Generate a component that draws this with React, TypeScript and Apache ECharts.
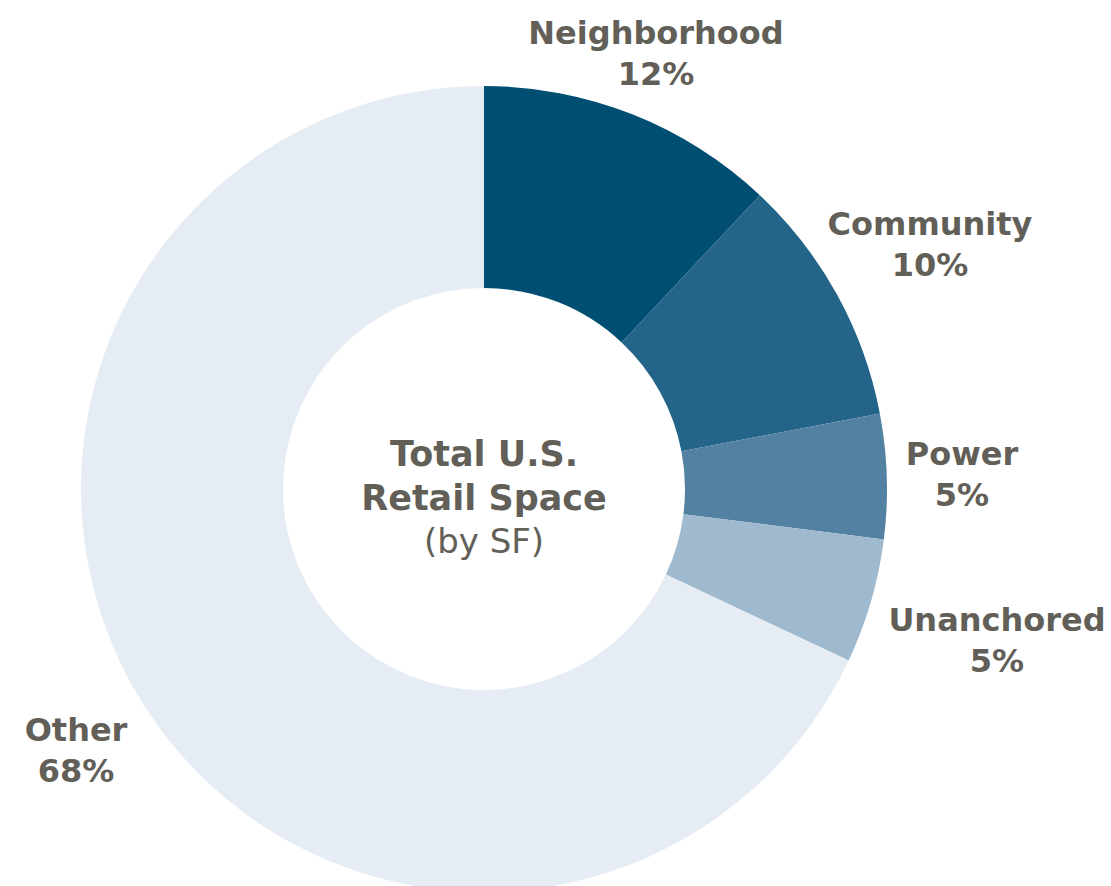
import React, { useEffect, useRef } from "react";
import * as echarts from "echarts";

const categories = ["Neighborhood", "Community", "Power", "Unanchored", "Other"];
const values = [12, 10, 5, 5, 68];
const colors = ["#004f72", "#236488", "#5381a2", "#9fb9cf", "#e6ecf3"];
const centerLines = ["Total U.S.", "Retail Space", "(by SF)"];

// label anchor positions (layout only, page coords)
const labelPos: [number, number][] = [
  [656, 53],
  [930, 244],
  [962, 474],
  [997, 640],
  [76, 750],
];

const FONT = "'DejaVu Sans', sans-serif";
const TEXT = "#625f58";

export default function App() {
  const ref = useRef<HTMLDivElement>(null);
  useEffect(() => {
    document.body.style.margin = "0";
    const chart = echarts.init(ref.current!, undefined, { renderer: "svg" });
    chart.setOption({
      animation: false,
      series: [
        {
          type: "pie",
          center: [484, 489],
          radius: [201, 403],
          startAngle: 90,
          clockwise: true,
          silent: true,
          data: categories.map((c, i) => ({
            name: c,
            value: values[i],
            itemStyle: { color: colors[i] },
          })),
          label: {
            show: true,
            formatter: "{b}\n{d}%",
            fontFamily: FONT,
            fontWeight: "bold",
            fontSize: 32,
            lineHeight: 41,
            color: TEXT,
            align: "center",
            overflow: "none",
            width: 400,
          },
          edgeDistance: 0,
          labelLine: { show: false },
          labelLayout: (p: any) => ({
            x: labelPos[p.dataIndex][0],
            y: labelPos[p.dataIndex][1],
            align: "center",
            verticalAlign: "middle",
          }),
        },
      ],
      graphic: [
        {
          type: "text",
          x: 484,
          y: 454,
          style: {
            text: centerLines[0],
            fontFamily: FONT,
            fontWeight: "bold",
            fontSize: 35,
            fill: TEXT,
            align: "center",
            verticalAlign: "middle",
          },
        },
        {
          type: "text",
          x: 484,
          y: 498,
          style: {
            text: centerLines[1],
            fontFamily: FONT,
            fontWeight: "bold",
            fontSize: 35,
            fill: TEXT,
            align: "center",
            verticalAlign: "middle",
          },
        },
        {
          type: "text",
          x: 484,
          y: 541,
          style: {
            text: centerLines[2],
            fontFamily: FONT,
            fontWeight: "normal",
            fontSize: 34,
            fill: TEXT,
            align: "center",
            verticalAlign: "middle",
          },
        },
      ],
    });
    return () => chart.dispose();
  }, []);
  return <div ref={ref} style={{ width: 1111, height: 886 }} />;
}
